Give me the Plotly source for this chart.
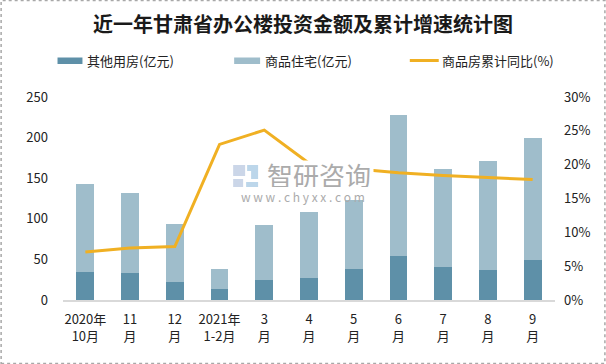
import plotly.graph_objects as go

categories = ["2020年<br>10月", "11<br>月", "12<br>月", "2021年<br>1-2月", "3<br>月", "4<br>月", "5<br>月", "6<br>月", "7<br>月", "8<br>月", "9<br>月"]
other_office = [35, 33, 22, 13, 25, 27, 38, 54, 41, 37, 49]
residential = [108, 99, 72, 25, 67, 81, 85, 174, 120, 134, 151]
yoy_pct = [7.1, 7.7, 7.9, 23.0, 25.1, 20.2, 19.4, 18.8, 18.4, 18.1, 17.8]
legend_names = ["其他用房(亿元)", "商品住宅(亿元)", "商品房累计同比(%)"]

W, H = 606, 364
L, R, T, B = 62.5, 555.5, 97, 300
FONT = "Noto Sans CJK SC"
C1, C2, C3 = "#5E90A8", "#9FBDCB", "#F0B023"

def px(x):
    return (x - L) / (R - L)

def py(y):
    return (B - y) / (B - T)

def box(x0, y0, x1, y1, color, width=0):
    return dict(type="rect", xref="paper", yref="paper", x0=px(x0), x1=px(x1), y0=py(y1), y1=py(y0),
                line=dict(color=color, width=width), fillcolor=color, layer="above")

def label(x, y, text, size=12, color="#222222", anchor="left", bg=None, **kw):
    d = dict(text=text, xref="paper", yref="paper", x=px(x), y=py(y), showarrow=False, xanchor=anchor,
             yanchor="middle", font=dict(size=size, color=color, family=FONT), **kw)
    if bg:
        d["bgcolor"] = bg
    return d

fig = go.Figure()
fig.add_bar(x=categories, y=other_office, name=legend_names[0], marker_color=C1, marker_line_width=0)
fig.add_bar(x=categories, y=residential, name=legend_names[1], marker_color=C2, marker_line_width=0)
fig.add_scatter(x=categories, y=yoy_pct, name=legend_names[2], yaxis="y2", mode="lines",
                line=dict(color=C3, width=3, shape="linear"))

border = dict(type="rect", xref="paper", yref="paper", x0=px(0.5), x1=px(W - 0.5), y0=py(H - 0.5), y1=py(0.5),
              line=dict(color="#A8A8A8", width=1.5, dash="dot"), fillcolor="rgba(0,0,0,0)")
legend_shapes = [
    box(57, 57.5, 82, 64, C1),
    box(234, 57.5, 260, 64, C2),
    dict(type="line", xref="paper", yref="paper", x0=px(410), x1=px(439), y0=py(60.5), y1=py(60.5),
         line=dict(color=C3, width=3)),
]
logo = [
    box(233, 165, 245, 176, "#CBD6E8"),
    box(247, 165, 258, 171, "#BCD6EA"),
    box(251, 171, 258, 179, "#BCD6EA"),
    box(233, 179, 243, 187, "#CBD6E8"),
    box(246, 182, 258, 187, "#BCD6EA"),
]

fig.update_layout(
    width=W, height=H, autosize=False, barmode="stack", bargap=0.6, showlegend=False,
    paper_bgcolor="white", plot_bgcolor="white",
    font=dict(family=FONT, size=12, color="#222222"),
    margin=dict(l=L, r=W - R, t=T, b=H - B, autoexpand=False, pad=0),
    title=dict(text="<b>近一年甘肃省办公楼投资金额及累计增速统计图</b>", x=0.5, xanchor="center",
               y=1 - 25 / H, yanchor="middle", font=dict(size=20, family=FONT, color="#1A1A1A")),
    xaxis=dict(type="category", showgrid=False, showline=True, linecolor="#D9D9D9", linewidth=1.5,
               ticks="", tickfont=dict(size=13, color="#222222"), tickangle=0, ticklabelstandoff=7,
               automargin=False),
    yaxis=dict(range=[0, 250], tickvals=[0, 50, 100, 150, 200, 250], showgrid=False, showline=False,
               zeroline=False, ticks="", tickfont=dict(size=13, color="#222222"), ticklabelstandoff=14,
               automargin=False),
    yaxis2=dict(overlaying="y", side="right", range=[0, 30], tickvals=[0, 5, 10, 15, 20, 25, 30],
                ticktext=["0%", "5%", "10%", "15%", "20%", "25%", "30%"], showgrid=False, showline=False,
                zeroline=False, ticks="", tickfont=dict(size=13, color="#222222"), ticklabelstandoff=8,
                automargin=False),
    shapes=[border] + legend_shapes + logo,
    annotations=[
        label(84.5, 60.5, legend_names[0], size=13),
        label(262.5, 60.5, legend_names[1], size=13),
        label(440, 60.5, legend_names[2], size=13),
        label(319, 174, "智研咨询", size=26, color="#ABABAB", anchor="center", bg="white",
              width=108, height=26, borderpad=0),
        label(303, 196, "w w w . c h y x x . c o m", size=12, color="#ABABAB", anchor="center"),
    ],
)
fig.write_html("out.html", config={"displayModeBar": False},
               post_script="document.body.style.margin='0';document.documentElement.style.overflow='hidden';")
